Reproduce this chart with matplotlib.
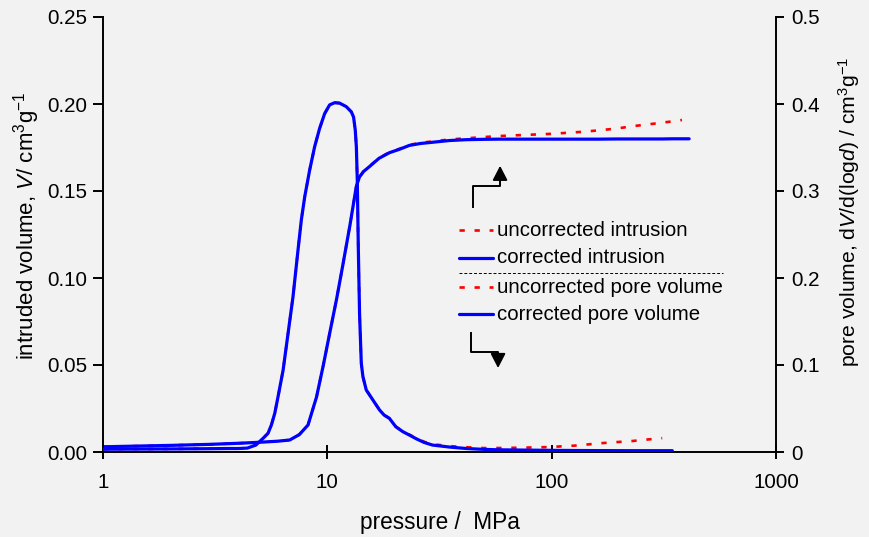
import numpy as np
import matplotlib.pyplot as plt

plt.rcParams['font.family'] = ['Liberation Sans', 'DejaVu Sans']
plt.rcParams['mathtext.fontset'] = 'custom'
plt.rcParams['mathtext.rm'] = 'Liberation Sans'
plt.rcParams['mathtext.it'] = 'Liberation Sans:italic'

# cumulative intrusion, left axis (cm3/g)
p_intr = [1, 2, 3, 4, 5, 6, 6.8, 7.5, 8.2, 8.95, 9.6, 10.25, 11.0, 11.67,
          12.6, 13.46, 13.9, 14.5, 15.4, 17.0, 18.9, 21.0, 23.2, 26.0, 29.4,
          35.0, 41.7, 50.0, 58.5, 75.0, 97.6, 116, 140, 163, 195, 228, 270,
          311, 345, 381, 410]
v_corr = [0.0030, 0.0038, 0.0044, 0.0050, 0.0056, 0.0062, 0.0069, 0.0100,
          0.0155, 0.0316, 0.0500, 0.0684, 0.0880, 0.1060, 0.1300, 0.1525,
          0.1580, 0.1612, 0.1640, 0.1688, 0.1720, 0.1740, 0.1762, 0.1773,
          0.1780, 0.1790, 0.1795, 0.1797, 0.1798, 0.1798, 0.1798, 0.1798,
          0.1798, 0.1798, 0.1799, 0.1799, 0.1799, 0.1799, 0.1800, 0.1800,
          0.1800]
p_intr_unc = p_intr[:-1]
v_unc = [0.0030, 0.0038, 0.0044, 0.0050, 0.0056, 0.0062, 0.0069, 0.0100,
         0.0155, 0.0316, 0.0500, 0.0684, 0.0880, 0.1060, 0.1300, 0.1525,
         0.1580, 0.1613, 0.1642, 0.1690, 0.1722, 0.1743, 0.1765, 0.1777,
         0.1785, 0.1796, 0.1803, 0.1810, 0.1816, 0.1822, 0.1828, 0.1834,
         0.1841, 0.1849, 0.1859, 0.1872, 0.1883, 0.1893, 0.1900, 0.1908]

# pore size distribution, right axis
p_pore = [1, 2, 3, 3.6, 4.0, 4.4, 4.8, 5.17, 5.44, 5.63, 5.83, 6.03, 6.35,
          6.68, 7.03, 7.40, 7.66, 7.93, 8.34, 8.78, 9.24, 9.73, 10.24, 10.78,
          11.34, 12.14, 12.79, 13.09, 13.32, 13.47, 13.6, 13.74, 13.92, 14.17,
          14.41, 14.91, 15.96, 17.09, 17.9, 18.9, 20.2, 21.7, 23.2, 25.0,
          27.0, 29.4, 35.0, 41.7, 50.0, 58.5, 75.0, 97.6, 130, 163, 228, 311,
          345]
dv_corr = [0.0032, 0.0035, 0.0038, 0.0040, 0.0040, 0.0045, 0.0080, 0.0157,
           0.0215, 0.0310, 0.0445, 0.0636, 0.0940, 0.1360, 0.1785, 0.2320,
           0.2670, 0.2935, 0.3240, 0.3510, 0.3720, 0.3890, 0.3990, 0.4015,
           0.4010, 0.3970, 0.3910, 0.3850, 0.3700, 0.3510, 0.3126, 0.2360,
           0.1590, 0.1020, 0.0866, 0.0713, 0.0598, 0.0483, 0.0425, 0.0387,
           0.0290, 0.0234, 0.0195, 0.0150, 0.0110, 0.0080, 0.0057, 0.0040,
           0.0030, 0.0025, 0.0022, 0.0019, 0.0017, 0.0016, 0.0015, 0.0015,
           0.0015]
p_pore_unc = p_pore[:-1]
dv_unc = [0.0032, 0.0035, 0.0038, 0.0040, 0.0040, 0.0045, 0.0080, 0.0157,
          0.0215, 0.0310, 0.0445, 0.0636, 0.0940, 0.1360, 0.1785, 0.2320,
          0.2670, 0.2935, 0.3240, 0.3510, 0.3720, 0.3890, 0.3990, 0.4015,
          0.4010, 0.3970, 0.3910, 0.3850, 0.3700, 0.3510, 0.3126, 0.2360,
          0.1590, 0.1020, 0.0866, 0.0713, 0.0598, 0.0483, 0.0425, 0.0387,
          0.0292, 0.0238, 0.0200, 0.0158, 0.0118, 0.0090, 0.0068, 0.0055,
          0.0045, 0.0046, 0.0050, 0.0057, 0.0075, 0.0100, 0.0126, 0.0160]

labels = ['uncorrected intrusion', 'corrected intrusion',
          'uncorrected pore volume', 'corrected pore volume']

bg = '#f2f2f2'
red_style = dict(color='#ff0000', lw=1.9, linestyle=(0, (2, 3.7)))
blue_style = dict(color='#0000ff', lw=2.3, solid_capstyle='round')

fig = plt.figure(figsize=(8.69, 5.37), dpi=100, facecolor=bg)
ax = fig.add_axes([103 / 869, 1 - 452 / 537, 673 / 869, 435 / 537])
ax.set_facecolor(bg)
ax2 = ax.twinx()

ax.plot(p_intr_unc, v_unc, **red_style)
ax2.plot(p_pore_unc, dv_unc, **red_style)
ax.plot(p_intr, v_corr, **blue_style)
ax2.plot(p_pore, dv_corr, **blue_style)

ax.set_xscale('log')
ax.set_xlim(1, 1000)
ax.set_ylim(0, 0.25)
ax2.set_ylim(0, 0.5)
ax.set_xticks([1, 10, 100, 1000], ['1', '10', '100', '1000'])
ax.xaxis.set_minor_locator(plt.NullLocator())
ax.set_yticks(np.arange(0, 0.26, 0.05), [f'{v:.2f}' for v in np.arange(0, 0.26, 0.05)])
ax2.set_yticks(np.arange(0, 0.51, 0.1), ['0', '0.1', '0.2', '0.3', '0.4', '0.5'])

for a in (ax, ax2):
    a.spines['top'].set_visible(False)
    for s in a.spines.values():
        s.set_linewidth(1.4)
ax2.spines['left'].set_visible(False)
ax2.spines['bottom'].set_visible(False)
ax.spines['right'].set_visible(False)

ax.tick_params(axis='x', direction='inout', length=10, width=1.4, pad=10, labelsize=14.8)
ax.tick_params(axis='y', direction='out', length=7, width=1.4, pad=4, labelsize=14.8)
ax2.tick_params(axis='y', direction='out', length=6, width=1.4, pad=5, labelsize=14.8)

ax.set_xlabel('pressure /  MPa', fontsize=16.3, labelpad=14)
ax.set_ylabel(r'intruded volume, $\it{V}$/ cm$^3$g$^{-1}$', fontsize=16)
ax2.set_ylabel(r'pore volume, d$\it{V}$/d(log$\it{d}$) / cm$^3$g$^{-1}$', fontsize=15.2)
ax.yaxis.set_label_coords(-0.09, 0.52)
ax2.yaxis.set_label_coords(1.089, 0.552)

# legend with separator between the two curve families
tr = ax.transAxes
rows = [0.510, 0.446, 0.379, 0.317]
for i, (y, lab) in enumerate(zip(rows, labels)):
    style = red_style if i % 2 == 0 else blue_style
    ax.plot([0.529, 0.5795], [y, y], transform=tr, clip_on=False, **style)
    ax.text(0.585, y, lab, transform=tr, fontsize=14.7, va='center', ha='left')
ax.plot([0.529, 0.921], [0.4115, 0.4115], transform=tr, color='k', lw=0.7,
        linestyle=(0, (3, 2)))

# arrows pointing to the axis each family belongs to
arrow_kw = dict(arrowstyle='-|>,head_length=0.58,head_width=0.3',
                color='k', lw=1.4, shrinkA=0, shrinkB=0, mutation_scale=15)
ax.plot([0.5498, 0.5498, 0.590, 0.590], [0.563, 0.611, 0.611, 0.630],
        transform=tr, color='k', lw=1.4)
ax.annotate('', xy=(0.590, 0.658), xytext=(0.590, 0.625),
            xycoords='axes fraction', arrowprops=arrow_kw)
ax.plot([0.5468, 0.5468, 0.587, 0.587], [0.274, 0.230, 0.230, 0.210],
        transform=tr, color='k', lw=1.4)
ax.annotate('', xy=(0.587, 0.193), xytext=(0.587, 0.215),
            xycoords='axes fraction', arrowprops=arrow_kw)

fig.savefig('out.png', dpi=100, facecolor=bg)
